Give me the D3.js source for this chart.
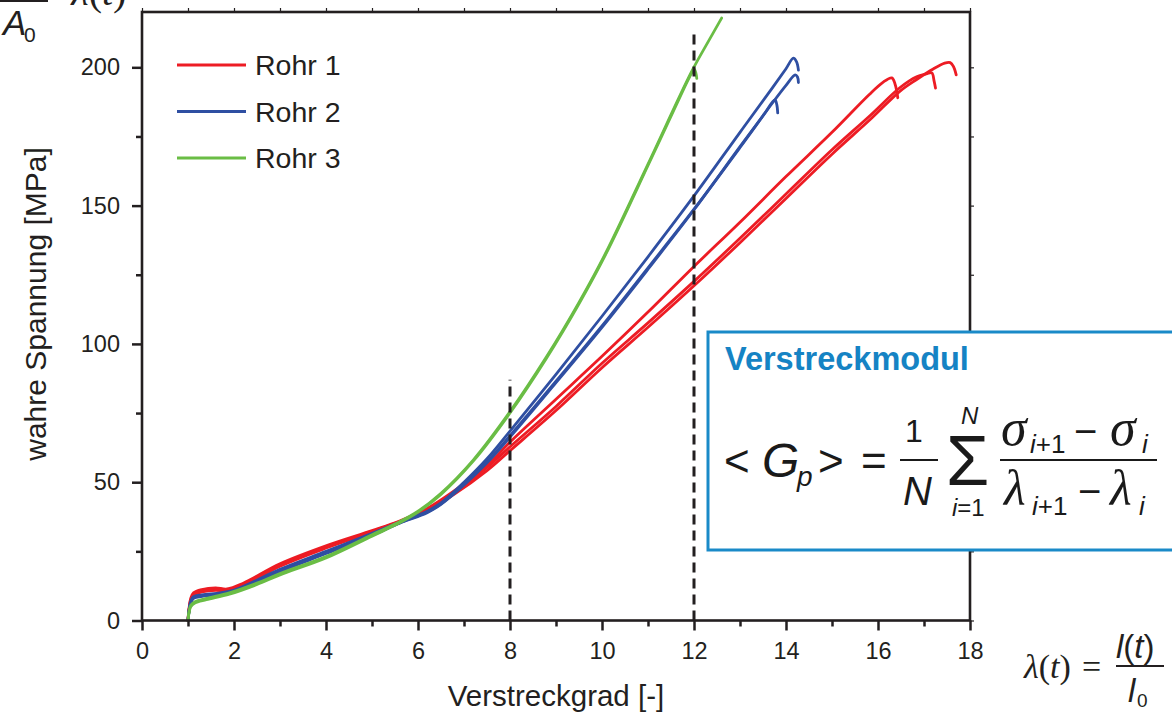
<!DOCTYPE html>
<html lang="de">
<head>
<meta charset="UTF-8">
<title>Verstreckkurven Rohr 1-3</title>
<script src="https://d3js.org/d3.v7.min.js"></script>
<style>
  body { margin: 0; background: #fff; }
  svg { display: block; font-family: "Liberation Sans", Arial, sans-serif; }
</style>
</head>
<body>
<script>
// Serien
const seriesNames = ["Rohr 1", "Rohr 2", "Rohr 3"];
const seriesColors = ["#ed1c24", "#2f4fa2", "#6abd45"];

// Rohr 1 – drei Proben, [Verstreckgrad, wahre Spannung]
const rohr1a = [[1.0,0],[1.02,4],[1.06,8],[1.12,10],[1.3,11.2],[1.6,11.8],[1.85,11.4],[2.2,13.5],[3,20.5],[4,27],[5,32.5],[5.6,36],[6.2,40.5],[6.8,47],[7.5,56],[8,64.5],[9,80],[10,95.5],[11,111.5],[12,128],[13,144],[14,160.5],[15,176.5],[15.8,190],[16.1,194.5],[16.3,196.2],[16.37,194],[16.43,189]];
const rohr1b = [[1.0,0],[1.02,3.5],[1.06,7.5],[1.12,9.5],[1.3,10.6],[1.6,11.2],[1.85,10.9],[2.2,13],[3,20],[4,26.5],[5,32.2],[5.6,35.8],[6.2,40],[6.8,46.3],[7.5,55.3],[8,62.8],[9,77.4],[10,93],[11,107.6],[12,122.6],[13,138.2],[14,154.2],[15,170.2],[15.83,182.6],[16.48,192.7],[16.84,196.6],[17.05,197.6],[17.17,198],[17.22,195],[17.25,192.5]];
const rohr1c = [[1.0,0],[1.02,3.5],[1.06,7],[1.12,9.2],[1.3,10.3],[1.6,10.9],[1.85,10.7],[2.2,12.7],[3,19.6],[4,26.2],[5,32],[5.6,35.7],[6.2,39.8],[6.8,45.8],[7.5,54.2],[8,61.4],[9,75.9],[10,91.4],[11,106],[12,121],[13,136.6],[14,152.6],[15,168.6],[15.83,181.1],[16.48,191.4],[16.84,195.6],[17.2,199.4],[17.45,201.5],[17.57,201.7],[17.64,200.3],[17.7,197.3]];

// Rohr 2
const rohr2a = [[1.0,0],[1.02,3.5],[1.06,7],[1.12,8.6],[1.3,9.3],[1.7,10],[2,11],[3,18.5],[4,25],[5,31.5],[5.6,35.5],[6.2,39.5],[6.5,42.5],[7,50],[7.5,58.5],[8,68.5],[9,89],[10,110],[11,131.5],[12,153.5],[13,176.5],[13.7,192.5],[14.0,199.5],[14.16,203.3],[14.23,202],[14.27,199]];
const rohr2b = [[1.0,0],[1.02,3],[1.06,6.5],[1.12,8.2],[1.3,8.9],[1.7,9.6],[2,10.5],[3,18],[4,24.5],[5,31],[5.6,35.3],[6.2,39.2],[6.5,42.2],[7,49.2],[7.5,57.3],[8,66.8],[9,86.5],[10,106.5],[11,127.5],[12,148.7],[13,171],[13.7,187],[14.0,193.5],[14.2,197.3],[14.25,196.5],[14.27,194.5]];
const rohr2c = [[1.0,0],[1.02,3],[1.06,6.3],[1.12,8],[1.3,8.7],[1.7,9.4],[2,10.3],[3,17.7],[4,24.2],[5,30.8],[5.6,35.2],[6.2,39],[6.5,42],[7,49],[7.5,57],[8,66.3],[9,86],[10,106],[11,127],[12,148.5],[13,171.3],[13.5,182.5],[13.76,188.2],[13.8,186.5],[13.82,183.5]];

// Rohr 3
const rohr3a = [[1.0,0],[1.02,3],[1.06,5.5],[1.15,6.8],[1.4,8],[1.9,10],[2.5,13.5],[3,17],[4,23.1],[5,31],[5.6,35.7],[6.0,39.5],[6.5,46],[7.2,58],[8,75.5],[8.8,95.5],[9.5,115],[10.1,133.5],[11,165],[11.95,198.5],[12.3,209],[12.6,217.8]];
const rohr3b = [[1.0,0],[1.02,2.5],[1.06,5],[1.15,6.3],[1.4,7.5],[1.9,9.5],[2.5,13],[3,16.5],[4,22.6],[5,30.5],[5.6,35.3],[6.0,39.2],[6.5,45.6],[7.2,57.6],[8,75],[8.8,95],[9.5,114.5],[10.1,133],[11,164.5],[11.8,193],[11.95,198],[12.0,199.5],[12.04,198],[12.06,196]];

// Achsen
const xMajorTicks = [0, 2, 4, 6, 8, 10, 12, 14, 16, 18];
const xMinorTicks = [1, 3, 5, 7, 9, 11, 13, 15, 17];
const yMajorTicks = [0, 50, 100, 150, 200];
const yMinorTicks = [25, 75, 125, 175];

// gestrichelte Markierungen bei λ = 8 und 12
const markLambda = [8, 12];
const markTop = [87, 213];

const curves = [
  { s: 0, pts: rohr1a }, { s: 0, pts: rohr1b }, { s: 0, pts: rohr1c },
  { s: 1, pts: rohr2a }, { s: 1, pts: rohr2b }, { s: 1, pts: rohr2c },
  { s: 2, pts: rohr3a }, { s: 2, pts: rohr3b }
];

const width = 1172, height = 716;
const margin = { top: 12, right: 202, bottom: 95.5, left: 142 };
const ink = "#231f20";

const svg = d3.select("body").append("svg")
    .attr("width", width)
    .attr("height", height);

const x = d3.scaleLinear().domain([0, 18]).range([margin.left, width - margin.right]);
const y = d3.scaleLinear().domain([0, 220]).range([height - margin.bottom, margin.top]);

// Kurven
const line = d3.line()
    .x(d => x(d[0]))
    .y(d => y(d[1]))
    .curve(d3.curveCatmullRom.alpha(0.5));

svg.append("g")
  .selectAll("path")
  .data(curves)
  .join("path")
    .attr("d", d => line(d.pts))
    .attr("fill", "none")
    .attr("stroke", d => seriesColors[d.s])
    .attr("stroke-width", 2.8)
    .attr("stroke-linejoin", "round")
    .attr("stroke-linecap", "round");

// gestrichelte Linien
svg.append("g")
  .selectAll("line")
  .data(markLambda)
  .join("line")
    .attr("x1", d => x(d)).attr("x2", d => x(d))
    .attr("y1", y(0)).attr("y2", (d, i) => y(markTop[i]))
    .attr("stroke", ink)
    .attr("stroke-width", 3)
    .attr("stroke-dasharray", "10,6");

// Rahmen
svg.append("rect")
    .attr("x", x(0)).attr("y", y(220))
    .attr("width", x(18) - x(0)).attr("height", y(0) - y(220))
    .attr("fill", "none")
    .attr("stroke", ink)
    .attr("stroke-width", 2.6);

function styleAxis(g) {
  g.select(".domain").remove();
  g.selectAll(".tick line").attr("stroke", ink).attr("stroke-width", 2.5);
  g.selectAll(".tick text").attr("fill", ink).style("font-size", "23.5px");
}

svg.append("g")
    .attr("transform", `translate(0,${y(0)})`)
    .call(d3.axisBottom(x).tickValues(xMajorTicks).tickSize(10).tickPadding(12).tickFormat(d3.format("d")))
    .call(styleAxis);
svg.append("g")
    .attr("transform", `translate(0,${y(0)})`)
    .call(d3.axisBottom(x).tickValues(xMinorTicks).tickSize(6).tickFormat(""))
    .call(styleAxis);
svg.append("g")
    .attr("transform", `translate(${x(0)},0)`)
    .call(d3.axisLeft(y).tickValues(yMajorTicks).tickSize(10).tickPadding(12).tickFormat(d3.format("d")))
    .call(styleAxis);
svg.append("g")
    .attr("transform", `translate(${x(0)},0)`)
    .call(d3.axisLeft(y).tickValues(yMinorTicks).tickSize(6).tickFormat(""))
    .call(styleAxis);
// gespiegelte Achsen oben/rechts
svg.append("g")
    .attr("transform", `translate(0,${y(220)})`)
    .call(d3.axisTop(x).tickValues(d3.range(0, 19)).tickSize(4).tickFormat(""))
    .call(styleAxis)
    .selectAll(".tick line").attr("stroke-width", 1.2);
svg.append("g")
    .attr("transform", `translate(${x(18)},0)`)
    .call(d3.axisRight(y).tickValues(yMajorTicks.concat(yMinorTicks)).tickSize(4).tickFormat(""))
    .call(styleAxis)
    .selectAll(".tick line").attr("stroke-width", 1.2);

// Achsentitel
svg.append("text")
    .attr("x", 556)
    .attr("y", 706)
    .attr("text-anchor", "middle")
    .attr("fill", ink)
    .style("font-size", "29.5px")
    .text("Verstreckgrad [-]");

svg.append("text")
    .attr("transform", "translate(46,304) rotate(-90)")
    .attr("text-anchor", "middle")
    .attr("fill", ink)
    .style("font-size", "30px")
    .text("wahre Spannung [MPa]");

// Legende
const legend = svg.append("g")
  .selectAll("g")
  .data(seriesNames)
  .join("g")
    .attr("transform", (d, i) => `translate(177,${65 + i * 46.5})`);
legend.append("line")
    .attr("x1", 0).attr("x2", 69)
    .attr("stroke", (d, i) => seriesColors[i])
    .attr("stroke-width", 2.8);
legend.append("text")
    .attr("x", 78).attr("dy", "0.36em")
    .attr("fill", ink)
    .style("font-size", "28.5px")
    .text(d => d);

// Formelrest oben links (abgeschnitten)
const corner = svg.append("g").attr("fill", ink);
corner.append("line")
    .attr("x1", 0).attr("x2", 48).attr("y1", 1).attr("y2", 1)
    .attr("stroke", ink).attr("stroke-width", 2);
corner.append("text").attr("x", 3).attr("y", 35)
    .style("font-style", "italic").style("font-size", "35px").text("A");
corner.append("text").attr("x", 24).attr("y", 42)
    .style("font-size", "21px").text("0");
corner.append("text").attr("x", 58).attr("y", 5)
    .style("font-family", "'Liberation Serif', serif").style("font-size", "40px")
    .html("·<tspan font-style='italic'>λ</tspan>(<tspan font-style='italic'>t</tspan>)");

// λ(t) = l(t)/l0 unten rechts
const lam = svg.append("g").attr("fill", ink)
    .style("font-family", "'Liberation Serif', serif");
lam.append("text").attr("x", 1024).attr("y", 678).style("font-size", "34px")
    .html("<tspan font-style='italic'>λ</tspan>(<tspan font-style='italic'>t</tspan>)");
lam.append("text").attr("x", 1082).attr("y", 678).style("font-size", "34px").text("=");
lam.append("line").attr("x1", 1116).attr("x2", 1164).attr("y1", 666).attr("y2", 666)
    .attr("stroke", ink).attr("stroke-width", 1.8);
lam.append("text").attr("x", 1116).attr("y", 658).style("font-size", "33px")
    .style("font-family", "'Liberation Sans', sans-serif")
    .html("<tspan font-style='italic'>l</tspan>(<tspan font-style='italic'>t</tspan>)");
lam.append("text").attr("x", 1128).attr("y", 702).style("font-size", "33px")
    .style("font-family", "'Liberation Sans', sans-serif").style("font-style", "italic").text("l");
lam.append("text").attr("x", 1137).attr("y", 707).style("font-size", "19px")
    .style("font-family", "'Liberation Sans', sans-serif").text("0");

// Kasten Verstreckmodul
const box = svg.append("g");
box.append("rect")
    .attr("x", 708).attr("y", 332).attr("width", 470).attr("height", 218)
    .attr("fill", "#fff").attr("stroke", "#1a8ac8").attr("stroke-width", 3);
box.append("text").attr("x", 725).attr("y", 370)
    .attr("fill", "#1583c4").style("font-weight", "bold").style("font-size", "32.5px")
    .text("Verstreckmodul");

const f = box.append("g").attr("fill", "#1a1a1a");
function put(xp, yp, str, size, opt = {}) {
  const t = f.append("text").attr("x", xp).attr("y", yp).style("font-size", size + "px").text(str);
  if (opt.italic) t.style("font-style", "italic");
  if (opt.serif) t.style("font-family", "'Liberation Serif', serif");
  return t;
}
put(724, 476, "<", 44);
put(762, 477, "G", 48, { italic: true });
put(797, 486, "p", 28, { italic: true });
put(818, 476, ">", 44);
put(861, 476, "=", 44);
put(905, 442, "1", 32);
f.append("line").attr("x1", 900).attr("x2", 938).attr("y1", 460).attr("y2", 460)
    .attr("stroke", "#1a1a1a").attr("stroke-width", 2.2);
put(903, 505, "N", 40, { italic: true });
put(946, 485, "Σ", 70);
put(961, 424, "N", 24, { italic: true });
put(952, 516, "", 24).html("<tspan font-style='italic'>i</tspan>=1");
f.append("line").attr("x1", 1000).attr("x2", 1157).attr("y1", 460).attr("y2", 460)
    .attr("stroke", "#1a1a1a").attr("stroke-width", 2.2);
put(1001, 445, "σ", 52, { italic: true, serif: true });
put(1030, 453, "", 26).html("<tspan font-style='italic'>i</tspan>+1");
put(1074, 445, "−", 40);
put(1110, 445, "σ", 52, { italic: true, serif: true });
put(1142, 453, "i", 26, { italic: true });
put(1004, 505, "λ", 50, { italic: true, serif: true });
put(1032, 515, "", 26).html("<tspan font-style='italic'>i</tspan>+1");
put(1078, 505, "−", 40);
put(1110, 505, "λ", 50, { italic: true, serif: true });
put(1139, 515, "i", 26, { italic: true });
</script>
</body>
</html>
